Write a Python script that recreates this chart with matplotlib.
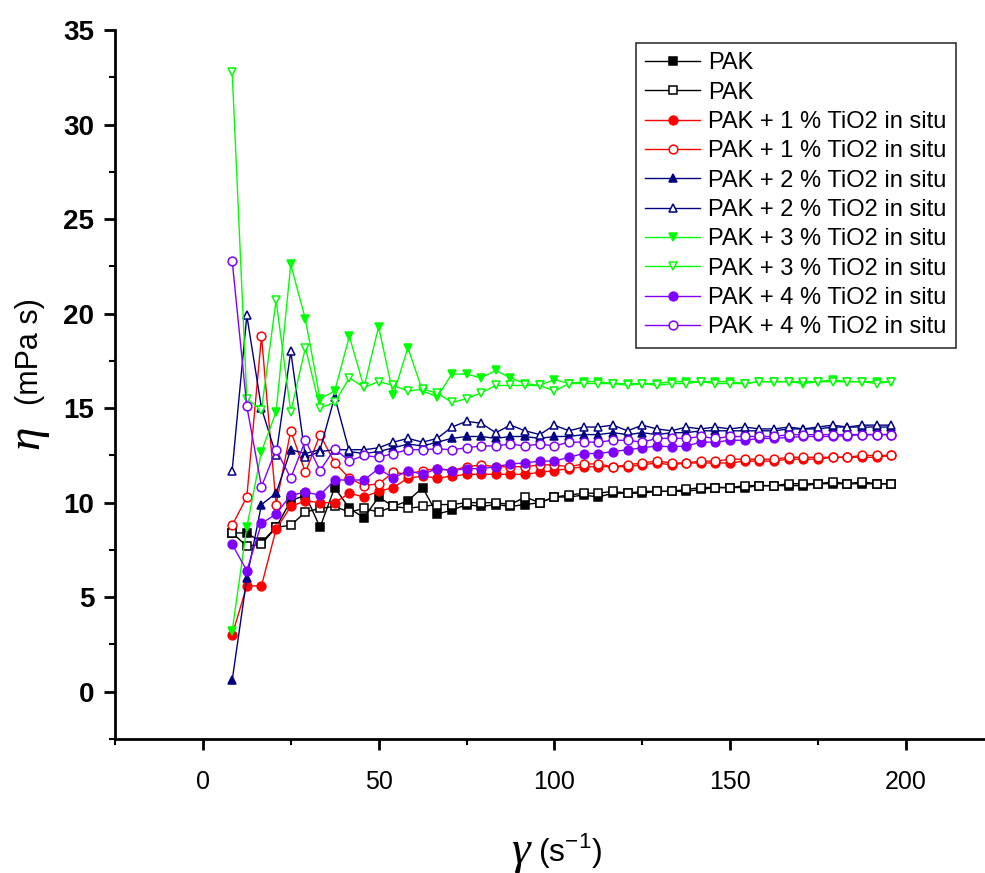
import matplotlib
matplotlib.use("Agg")
import matplotlib.pyplot as plt
from matplotlib.ticker import MultipleLocator

# shear rate (s^-1)
shear_rate = [8.33, 12.5, 16.67, 20.83, 25.0, 29.17, 33.33, 37.5, 41.67, 45.83,
              50.0, 54.17, 58.33, 62.5, 66.67, 70.83, 75.0, 79.17, 83.33, 87.5,
              91.67, 95.83, 100.0, 104.17, 108.33, 112.5, 116.67, 120.83, 125.0, 129.17,
              133.33, 137.5, 141.67, 145.83, 150.0, 154.17, 158.33, 162.5, 166.67, 170.83,
              175.0, 179.17, 183.33, 187.5, 191.67, 195.83]

pak_filled = [8.4, 8.4, 7.9, 8.7, 10.1, 10.4, 8.7, 10.8, 9.7, 9.2,
              10.3, 9.8, 10.1, 10.8, 9.4, 9.6, 9.9, 9.8, 9.9, 9.8,
              9.9, 10.0, 10.3, 10.3, 10.4, 10.3, 10.5, 10.5, 10.5, 10.6,
              10.6, 10.6, 10.7, 10.8, 10.8, 10.8, 10.9, 10.9, 10.9, 10.9,
              11.0, 11.0, 11.0, 11.0, 11.0, 11.0]
pak_open = [8.4, 7.7, 7.8, 8.7, 8.8, 9.5, 9.7, 9.8, 9.5, 9.7,
            9.5, 9.8, 9.7, 9.8, 9.9, 9.9, 10.0, 10.0, 10.0, 9.9,
            10.3, 10.0, 10.3, 10.4, 10.5, 10.5, 10.6, 10.5, 10.6, 10.6,
            10.6, 10.7, 10.8, 10.8, 10.8, 10.9, 10.9, 10.9, 11.0, 11.0,
            11.0, 11.1, 11.0, 11.1, 11.0, 11.0]
tio1_filled = [3.0, 5.6, 5.6, 8.6, 9.8, 10.1, 10.0, 10.0, 10.5, 10.3,
               10.6, 10.8, 11.3, 11.4, 11.3, 11.4, 11.5, 11.5, 11.5, 11.5,
               11.5, 11.6, 11.7, 11.8, 11.9, 11.9, 11.9, 11.9, 12.0, 12.1,
               12.0, 12.1, 12.1, 12.1, 12.1, 12.2, 12.2, 12.2, 12.3, 12.3,
               12.3, 12.4, 12.4, 12.4, 12.4, 12.5]
tio1_open = [8.8, 10.3, 18.8, 9.9, 13.8, 11.6, 13.6, 12.1, 11.3, 10.9,
             11.0, 11.6, 11.5, 11.7, 11.8, 11.7, 11.9, 12.0, 11.9, 11.9,
             11.9, 12.0, 12.0, 11.9, 12.05, 12.05, 11.9, 12.0, 12.1, 12.2,
             12.1, 12.1, 12.2, 12.2, 12.3, 12.3, 12.3, 12.3, 12.4, 12.4,
             12.4, 12.4, 12.4, 12.5, 12.5, 12.5]
tio2_filled = [0.6, 6.0, 9.9, 10.5, 12.8, 12.6, 12.8, 15.6, 12.7, 12.6,
               12.7, 12.9, 13.1, 13.0, 13.2, 13.4, 13.5, 13.5, 13.4, 13.5,
               13.5, 13.4, 13.5, 13.5, 13.6, 13.6, 13.7, 13.6, 13.7, 13.6,
               13.7, 13.7, 13.8, 13.8, 13.8, 13.8, 13.8, 13.8, 13.9, 13.9,
               13.9, 14.0, 14.0, 14.0, 14.0, 14.0]
tio2_open = [11.7, 19.9, 15.0, 12.5, 18.0, 12.4, 12.7, 12.8, 12.8, 12.8,
             12.9, 13.2, 13.4, 13.2, 13.4, 14.0, 14.3, 14.2, 13.7, 14.1,
             13.8, 13.6, 14.1, 13.8, 14.0, 14.0, 14.1, 13.8, 14.1, 13.9,
             13.8, 14.0, 13.9, 14.0, 13.9, 14.0, 13.9, 13.9, 14.0, 13.9,
             14.0, 14.1, 14.0, 14.1, 14.1, 14.1]
tio3_filled = [3.2, 8.7, 12.7, 14.8, 22.6, 19.7, 15.5, 15.9, 18.8, 16.1,
               19.3, 15.7, 18.2, 15.9, 15.6, 16.8, 16.8, 16.6, 17.0, 16.6,
               16.3, 16.2, 16.5, 16.3, 16.4, 16.4, 16.3, 16.3, 16.3, 16.3,
               16.4, 16.4, 16.4, 16.4, 16.4, 16.3, 16.4, 16.4, 16.4, 16.3,
               16.4, 16.5, 16.4, 16.4, 16.4, 16.4]
tio3_open = [32.8, 15.5, 14.9, 20.7, 14.8, 18.2, 15.0, 15.3, 16.6, 16.1,
             16.4, 16.2, 15.9, 16.0, 15.8, 15.3, 15.5, 15.8, 16.2, 16.2,
             16.2, 16.2, 15.9, 16.3, 16.3, 16.3, 16.3, 16.2, 16.3, 16.2,
             16.3, 16.3, 16.4, 16.3, 16.3, 16.3, 16.4, 16.4, 16.4, 16.4,
             16.4, 16.4, 16.4, 16.4, 16.3, 16.4]
tio4_filled = [7.8, 6.4, 8.9, 9.4, 10.4, 10.55, 10.4, 11.2, 11.2, 11.2,
               11.8, 11.3, 11.7, 11.5, 11.8, 11.7, 11.8, 11.8, 11.9, 12.05,
               12.1, 12.2, 12.2, 12.4, 12.6, 12.6, 12.7, 12.8, 12.9, 13.0,
               12.95, 13.0, 13.2, 13.2, 13.3, 13.3, 13.4, 13.4, 13.45, 13.5,
               13.5, 13.5, 13.55, 13.6, 13.6, 13.6]
tio4_open = [22.8, 15.1, 10.85, 12.8, 11.3, 13.3, 11.7, 12.85, 12.2, 12.5,
             12.4, 12.6, 12.8, 12.8, 12.85, 12.8, 12.9, 13.0, 13.0, 13.1,
             13.0, 13.1, 13.0, 13.2, 13.2, 13.2, 13.3, 13.3, 13.2, 13.4,
             13.4, 13.4, 13.5, 13.4, 13.5, 13.5, 13.5, 13.5, 13.6, 13.6,
             13.6, 13.6, 13.6, 13.6, 13.6, 13.6]

labels = ["PAK", "PAK",
          "PAK + 1 % TiO2 in situ", "PAK + 1 % TiO2 in situ",
          "PAK + 2 % TiO2 in situ", "PAK + 2 % TiO2 in situ",
          "PAK + 3 % TiO2 in situ", "PAK + 3 % TiO2 in situ",
          "PAK + 4 % TiO2 in situ", "PAK + 4 % TiO2 in situ"]
series = [pak_filled, pak_open, tio1_filled, tio1_open, tio2_filled, tio2_open,
          tio3_filled, tio3_open, tio4_filled, tio4_open]
colors = ["#000000", "#000000", "#FF0000", "#FF0000", "#000080", "#000080",
          "#00FF00", "#00FF00", "#8000FF", "#8000FF"]
markers = ["s", "s", "o", "o", "^", "^", "v", "v", "o", "o"]
filled = [True, False] * 5

plt.rcParams['font.family'] = ['Liberation Sans', 'DejaVu Sans']

fig = plt.figure(figsize=(9.85, 8.73), dpi=100)
ax = fig.add_axes([115/985, 1-739/873, 1-115/985, (739-30)/873])

for y, c, m, f, lab in zip(series, colors, markers, filled, labels):
    ax.plot(shear_rate, y, color=c, marker=m, markersize=6.3, linewidth=1.0,
            markerfacecolor=c if f else "white", markeredgecolor=c,
            markeredgewidth=1.1, label=lab)

ax.set_xlim(-25, 222.5)
ax.set_ylim(-2.5, 35)
ax.xaxis.set_major_locator(MultipleLocator(50))
ax.xaxis.set_minor_locator(MultipleLocator(25))
ax.yaxis.set_major_locator(MultipleLocator(5))
ax.yaxis.set_minor_locator(MultipleLocator(2.5))
for s in ["top", "right"]:
    ax.spines[s].set_visible(False)
for s in ["left", "bottom"]:
    ax.spines[s].set_linewidth(2)
ax.tick_params(which="major", direction="out", length=8, width=2, pad=6)
ax.tick_params(which="minor", direction="out", length=4, width=1.5)
ax.tick_params(axis="x", which="major", pad=14, labelsize=18)
ax.tick_params(axis="y", which="major", labelsize=20, pad=7)
for t in ax.get_yticklabels():
    t.set_fontweight("bold")

leg = ax.legend(loc="upper left", bbox_to_anchor=(636/985, 1-43/873),
                bbox_transform=fig.transFigure, fontsize=17, frameon=True,
                fancybox=False, handlelength=2.3, handletextpad=0.35,
                labelspacing=0.31, borderpad=0.4, borderaxespad=0)
leg.get_frame().set_edgecolor("black")
leg.get_frame().set_linewidth(1.2)

fig.text(27/985, 1-437/873, "η", rotation=90, fontsize=34, fontstyle="italic",
         family=["Liberation Serif", "DejaVu Serif"], ha="center", va="center")
fig.text(30/985, 1-352/873, "(mPa s)", rotation=90, fontsize=22,
         ha="center", va="center")
fig.text(520/985, 1-852/873, "γ", fontsize=34, fontstyle="italic",
         family=["Liberation Serif", "DejaVu Serif"], ha="center", va="center")
fig.text(570/985, 1-850/873, "(s$^{\\mathregular{-1}}$)", fontsize=23,
         ha="center", va="center")

fig.savefig("out.png", dpi=100)
